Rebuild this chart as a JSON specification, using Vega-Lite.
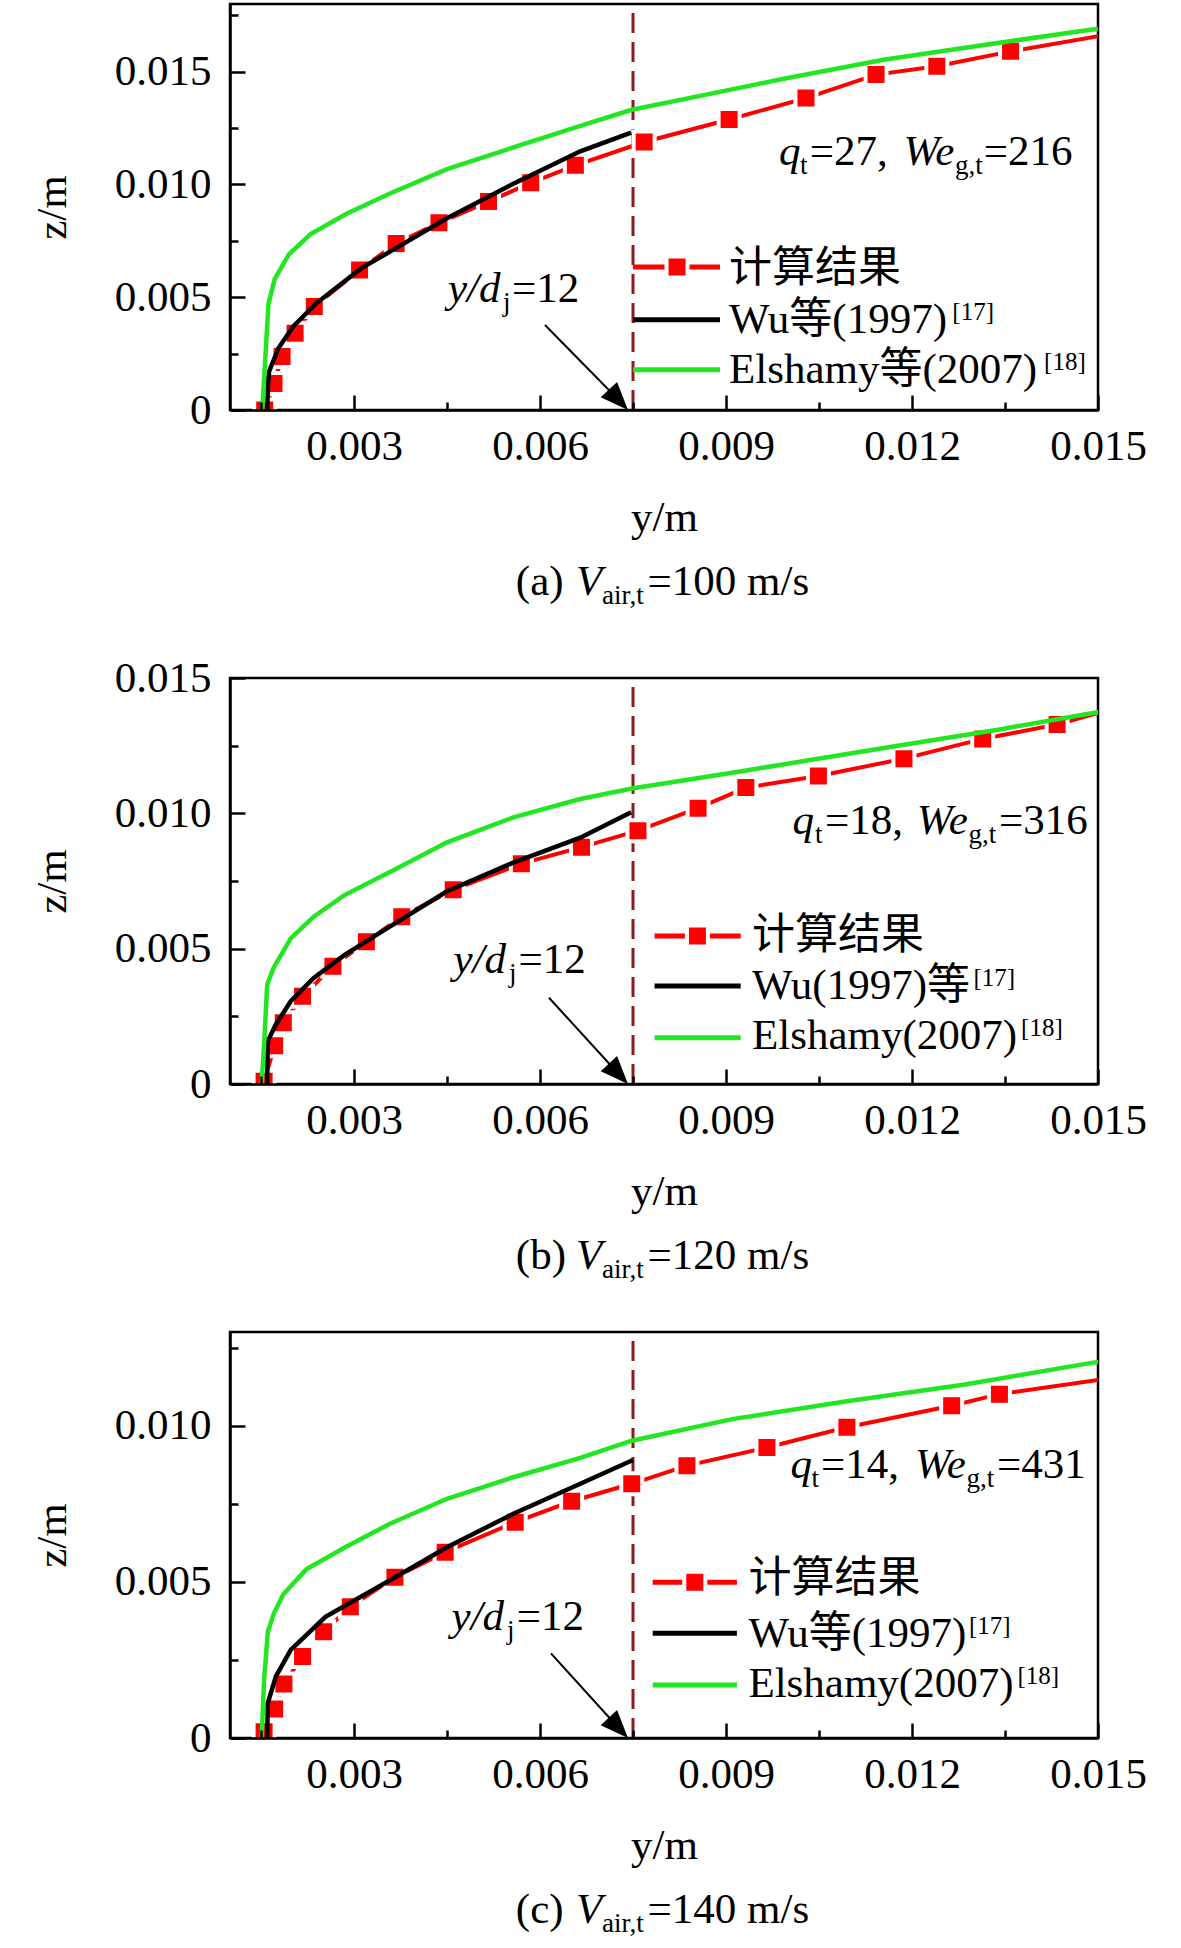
{
  "$schema": "https://vega.github.io/schema/vega-lite/v6.json",
  "padding": {"left": 30, "right": 10, "top": 1, "bottom": 5},
  "background": "white",
  "datasets": {
    "curves": [
      {"panel": "a", "series": "计算结果", "y": 0.00156, "z": 0.0},
      {"panel": "a", "series": "计算结果", "y": 0.00171, "z": 0.00118},
      {"panel": "a", "series": "计算结果", "y": 0.00184, "z": 0.00237},
      {"panel": "a", "series": "计算结果", "y": 0.00205, "z": 0.0034},
      {"panel": "a", "series": "计算结果", "y": 0.00236, "z": 0.00459},
      {"panel": "a", "series": "计算结果", "y": 0.00309, "z": 0.00621},
      {"panel": "a", "series": "计算结果", "y": 0.00368, "z": 0.00738},
      {"panel": "a", "series": "计算结果", "y": 0.00437, "z": 0.0083},
      {"panel": "a", "series": "计算结果", "y": 0.00517, "z": 0.00924},
      {"panel": "a", "series": "计算结果", "y": 0.00585, "z": 0.01007},
      {"panel": "a", "series": "计算结果", "y": 0.00657, "z": 0.01085},
      {"panel": "a", "series": "计算结果", "y": 0.00768, "z": 0.01188},
      {"panel": "a", "series": "计算结果", "y": 0.00905, "z": 0.01288},
      {"panel": "a", "series": "计算结果", "y": 0.01029, "z": 0.01383},
      {"panel": "a", "series": "计算结果", "y": 0.01142, "z": 0.01487},
      {"panel": "a", "series": "计算结果", "y": 0.0124, "z": 0.01524},
      {"panel": "a", "series": "计算结果", "y": 0.01359, "z": 0.0159},
      {"panel": "a", "series": "计算结果", "y": 0.0153, "z": 0.01671},
      {"panel": "a", "series": "Wu", "y": 0.0016, "z": 0.0},
      {"panel": "a", "series": "Wu", "y": 0.00161, "z": 0.0009},
      {"panel": "a", "series": "Wu", "y": 0.00163, "z": 0.0017},
      {"panel": "a", "series": "Wu", "y": 0.00178, "z": 0.00274},
      {"panel": "a", "series": "Wu", "y": 0.00202, "z": 0.0037},
      {"panel": "a", "series": "Wu", "y": 0.00239, "z": 0.00473},
      {"panel": "a", "series": "Wu", "y": 0.00312, "z": 0.00629},
      {"panel": "a", "series": "Wu", "y": 0.00358, "z": 0.00702},
      {"panel": "a", "series": "Wu", "y": 0.0045, "z": 0.0085},
      {"panel": "a", "series": "Wu", "y": 0.00557, "z": 0.01003},
      {"panel": "a", "series": "Wu", "y": 0.00665, "z": 0.01147},
      {"panel": "a", "series": "Wu", "y": 0.00747, "z": 0.0123},
      {"panel": "a", "series": "Elshamy", "y": 0.00152, "z": 0.0},
      {"panel": "a", "series": "Elshamy", "y": 0.00156, "z": 0.00185},
      {"panel": "a", "series": "Elshamy", "y": 0.00162, "z": 0.0047},
      {"panel": "a", "series": "Elshamy", "y": 0.00172, "z": 0.0058},
      {"panel": "a", "series": "Elshamy", "y": 0.00195, "z": 0.0069},
      {"panel": "a", "series": "Elshamy", "y": 0.0023, "z": 0.0078},
      {"panel": "a", "series": "Elshamy", "y": 0.00288, "z": 0.0087},
      {"panel": "a", "series": "Elshamy", "y": 0.00358, "z": 0.0096},
      {"panel": "a", "series": "Elshamy", "y": 0.0045, "z": 0.01068},
      {"panel": "a", "series": "Elshamy", "y": 0.00557, "z": 0.01164},
      {"panel": "a", "series": "Elshamy", "y": 0.00665, "z": 0.0126},
      {"panel": "a", "series": "Elshamy", "y": 0.00748, "z": 0.01331},
      {"panel": "a", "series": "Elshamy", "y": 0.0088, "z": 0.01405},
      {"panel": "a", "series": "Elshamy", "y": 0.00987, "z": 0.01465},
      {"panel": "a", "series": "Elshamy", "y": 0.01154, "z": 0.01553},
      {"panel": "a", "series": "Elshamy", "y": 0.01338, "z": 0.01627},
      {"panel": "a", "series": "Elshamy", "y": 0.01488, "z": 0.01686},
      {"panel": "a", "series": "Elshamy", "y": 0.0151, "z": 0.01692},
      {"panel": "b", "series": "计算结果", "y": 0.00155, "z": 0.0001},
      {"panel": "b", "series": "计算结果", "y": 0.00172, "z": 0.00141},
      {"panel": "b", "series": "计算结果", "y": 0.00186, "z": 0.00226},
      {"panel": "b", "series": "计算结果", "y": 0.00217, "z": 0.00324},
      {"panel": "b", "series": "计算结果", "y": 0.00266, "z": 0.00435},
      {"panel": "b", "series": "计算结果", "y": 0.0032, "z": 0.00526},
      {"panel": "b", "series": "计算结果", "y": 0.00377, "z": 0.00618},
      {"panel": "b", "series": "计算结果", "y": 0.0046, "z": 0.00718},
      {"panel": "b", "series": "计算结果", "y": 0.0057, "z": 0.00814},
      {"panel": "b", "series": "计算结果", "y": 0.00667, "z": 0.00875},
      {"panel": "b", "series": "计算结果", "y": 0.00758, "z": 0.00936},
      {"panel": "b", "series": "计算结果", "y": 0.00855, "z": 0.01019},
      {"panel": "b", "series": "计算结果", "y": 0.00932, "z": 0.01095},
      {"panel": "b", "series": "计算结果", "y": 0.01049, "z": 0.01138},
      {"panel": "b", "series": "计算结果", "y": 0.01187, "z": 0.01202},
      {"panel": "b", "series": "计算结果", "y": 0.01314, "z": 0.01275},
      {"panel": "b", "series": "计算结果", "y": 0.01434, "z": 0.01328},
      {"panel": "b", "series": "计算结果", "y": 0.0153, "z": 0.0139},
      {"panel": "b", "series": "Wu", "y": 0.0016, "z": 0.0},
      {"panel": "b", "series": "Wu", "y": 0.00161, "z": 0.00159},
      {"panel": "b", "series": "Wu", "y": 0.00174, "z": 0.0022},
      {"panel": "b", "series": "Wu", "y": 0.00198, "z": 0.00306},
      {"panel": "b", "series": "Wu", "y": 0.00235, "z": 0.00392},
      {"panel": "b", "series": "Wu", "y": 0.00285, "z": 0.00477},
      {"panel": "b", "series": "Wu", "y": 0.00346, "z": 0.00565},
      {"panel": "b", "series": "Wu", "y": 0.0045, "z": 0.00712},
      {"panel": "b", "series": "Wu", "y": 0.00557, "z": 0.00818},
      {"panel": "b", "series": "Wu", "y": 0.00665, "z": 0.0091},
      {"panel": "b", "series": "Wu", "y": 0.00747, "z": 0.01004},
      {"panel": "b", "series": "Elshamy", "y": 0.00151, "z": 0.0},
      {"panel": "b", "series": "Elshamy", "y": 0.00155, "z": 0.00147},
      {"panel": "b", "series": "Elshamy", "y": 0.0016, "z": 0.00367},
      {"panel": "b", "series": "Elshamy", "y": 0.0017, "z": 0.00428},
      {"panel": "b", "series": "Elshamy", "y": 0.00198, "z": 0.00538},
      {"panel": "b", "series": "Elshamy", "y": 0.00235, "z": 0.00618},
      {"panel": "b", "series": "Elshamy", "y": 0.00284, "z": 0.00697},
      {"panel": "b", "series": "Elshamy", "y": 0.00358, "z": 0.00783},
      {"panel": "b", "series": "Elshamy", "y": 0.0045, "z": 0.00893},
      {"panel": "b", "series": "Elshamy", "y": 0.00557, "z": 0.00985},
      {"panel": "b", "series": "Elshamy", "y": 0.00665, "z": 0.01053},
      {"panel": "b", "series": "Elshamy", "y": 0.00748, "z": 0.01092},
      {"panel": "b", "series": "Elshamy", "y": 0.0091, "z": 0.0115},
      {"panel": "b", "series": "Elshamy", "y": 0.01157, "z": 0.01242},
      {"panel": "b", "series": "Elshamy", "y": 0.01341, "z": 0.0131},
      {"panel": "b", "series": "Elshamy", "y": 0.01492, "z": 0.01371},
      {"panel": "b", "series": "Elshamy", "y": 0.0151, "z": 0.01377},
      {"panel": "c", "series": "计算结果", "y": 0.00155, "z": 0.0002},
      {"panel": "c", "series": "计算结果", "y": 0.00172, "z": 0.00093},
      {"panel": "c", "series": "计算结果", "y": 0.00187, "z": 0.00173},
      {"panel": "c", "series": "计算结果", "y": 0.00217, "z": 0.00261},
      {"panel": "c", "series": "计算结果", "y": 0.00251, "z": 0.0034},
      {"panel": "c", "series": "计算结果", "y": 0.00294, "z": 0.0042},
      {"panel": "c", "series": "计算结果", "y": 0.00366, "z": 0.00515},
      {"panel": "c", "series": "计算结果", "y": 0.00447, "z": 0.00595},
      {"panel": "c", "series": "计算结果", "y": 0.0056, "z": 0.00691},
      {"panel": "c", "series": "计算结果", "y": 0.00651, "z": 0.00758},
      {"panel": "c", "series": "计算结果", "y": 0.00748, "z": 0.00814},
      {"panel": "c", "series": "计算结果", "y": 0.00837, "z": 0.00872},
      {"panel": "c", "series": "计算结果", "y": 0.00966, "z": 0.0093},
      {"panel": "c", "series": "计算结果", "y": 0.01095, "z": 0.00995},
      {"panel": "c", "series": "计算结果", "y": 0.01264, "z": 0.01064},
      {"panel": "c", "series": "计算结果", "y": 0.01341, "z": 0.01101},
      {"panel": "c", "series": "计算结果", "y": 0.0153, "z": 0.01155},
      {"panel": "c", "series": "Wu", "y": 0.0016, "z": 0.0},
      {"panel": "c", "series": "Wu", "y": 0.00161, "z": 0.00112},
      {"panel": "c", "series": "Wu", "y": 0.00174, "z": 0.00197},
      {"panel": "c", "series": "Wu", "y": 0.00198, "z": 0.00282},
      {"panel": "c", "series": "Wu", "y": 0.00254, "z": 0.00388},
      {"panel": "c", "series": "Wu", "y": 0.00358, "z": 0.00505},
      {"panel": "c", "series": "Wu", "y": 0.0045, "z": 0.00611},
      {"panel": "c", "series": "Wu", "y": 0.00557, "z": 0.00718},
      {"panel": "c", "series": "Wu", "y": 0.00665, "z": 0.00814},
      {"panel": "c", "series": "Wu", "y": 0.0075, "z": 0.0089},
      {"panel": "c", "series": "Elshamy", "y": 0.00151, "z": 0.0},
      {"panel": "c", "series": "Elshamy", "y": 0.00155, "z": 0.00186},
      {"panel": "c", "series": "Elshamy", "y": 0.00161, "z": 0.0034},
      {"panel": "c", "series": "Elshamy", "y": 0.00171, "z": 0.004},
      {"panel": "c", "series": "Elshamy", "y": 0.00186, "z": 0.0046},
      {"panel": "c", "series": "Elshamy", "y": 0.00223, "z": 0.0054},
      {"panel": "c", "series": "Elshamy", "y": 0.00285, "z": 0.0061},
      {"panel": "c", "series": "Elshamy", "y": 0.00358, "z": 0.00686},
      {"panel": "c", "series": "Elshamy", "y": 0.0045, "z": 0.00766},
      {"panel": "c", "series": "Elshamy", "y": 0.00557, "z": 0.00835},
      {"panel": "c", "series": "Elshamy", "y": 0.00665, "z": 0.00897},
      {"panel": "c", "series": "Elshamy", "y": 0.00748, "z": 0.00952},
      {"panel": "c", "series": "Elshamy", "y": 0.0091, "z": 0.01021},
      {"panel": "c", "series": "Elshamy", "y": 0.01095, "z": 0.01078},
      {"panel": "c", "series": "Elshamy", "y": 0.0128, "z": 0.0113},
      {"panel": "c", "series": "Elshamy", "y": 0.01492, "z": 0.01202},
      {"panel": "c", "series": "Elshamy", "y": 0.0151, "z": 0.01207}
    ],
    "refline": [
      {"panel": "a", "y": 0.0075, "z": 0, "z2": 0.018},
      {"panel": "b", "y": 0.0075, "z": 0, "z2": 0.015},
      {"panel": "c", "y": 0.0075, "z": 0, "z2": 0.013}
    ],
    "arrows": [
      {"panel": "a", "y": 0.00608, "z": 0.003768, "y2": 0.007265, "z2": 0.000452},
      {"panel": "b", "y": 0.006145, "z": 0.003188, "y2": 0.007265, "z2": 0.000377},
      {"panel": "c", "y": 0.006177, "z": 0.002712, "y2": 0.007265, "z2": 0.000327}
    ],
    "heads": [
      {"panel": "a", "y": 0.007265, "z": 0.000452},
      {"panel": "b", "y": 0.007265, "z": 0.000377},
      {"panel": "c", "y": 0.007265, "z": 0.000327}
    ],
    "keys": [
      {"panel": "a", "series": "计算结果", "y": 0.0075, "y2": 0.008903, "z": 0.00634},
      {"panel": "a", "series": "Wu", "y": 0.0075, "y2": 0.008903, "z": 0.004003},
      {"panel": "a", "series": "Elshamy", "y": 0.0075, "y2": 0.008903, "z": 0.001787},
      {"panel": "b", "series": "计算结果", "y": 0.007848, "y2": 0.009237, "z": 0.005468},
      {"panel": "b", "series": "Wu", "y": 0.007848, "y2": 0.009237, "z": 0.003621},
      {"panel": "b", "series": "Elshamy", "y": 0.007848, "y2": 0.009237, "z": 0.001711},
      {"panel": "c", "series": "计算结果", "y": 0.007818, "y2": 0.009176, "z": 0.004985},
      {"panel": "c", "series": "Wu", "y": 0.007818, "y2": 0.009176, "z": 0.003353},
      {"panel": "c", "series": "Elshamy", "y": 0.007818, "y2": 0.009176, "z": 0.001697}
    ],
    "keymarks": [
      {"panel": "a", "y": 0.00821, "z": 0.00634},
      {"panel": "b", "y": 0.008539, "z": 0.005468},
      {"panel": "c", "y": 0.008497, "z": 0.004985}
    ],
    "roman": [
      {"panel": "a", "y": 0.005548, "z": 0.004788, "text": "=12"},
      {"panel": "a", "y": 0.010349, "z": 0.010849, "text": "=27,"},
      {"panel": "a", "y": 0.013157, "z": 0.010849, "text": "=216"},
      {"panel": "a", "y": 0.009048, "z": 0.005675, "text": "计算结果"},
      {"panel": "a", "y": 0.009048, "z": 0.003414, "text": "Wu等(1997)"},
      {"panel": "a", "y": 0.009048, "z": 0.001219, "text": "Elshamy等(2007)"},
      {"panel": "a", "y": 0.00561, "z": -0.0082, "text": "(a)"},
      {"panel": "a", "y": 0.007735, "z": -0.0082, "text": "=100 m/s"},
      {"panel": "b", "y": 0.005655, "z": 0.004112, "text": "=12"},
      {"panel": "b", "y": 0.010597, "z": 0.009225, "text": "=18,"},
      {"panel": "b", "y": 0.013403, "z": 0.009225, "text": "=316"},
      {"panel": "b", "y": 0.009419, "z": 0.004988, "text": "计算结果"},
      {"panel": "b", "y": 0.009419, "z": 0.00314, "text": "Wu(1997)等"},
      {"panel": "b", "y": 0.009419, "z": 0.001293, "text": "Elshamy(2007)"},
      {"panel": "b", "y": 0.00561, "z": -0.006835, "text": "(b)"},
      {"panel": "b", "y": 0.007735, "z": -0.006835, "text": "=120 m/s"},
      {"panel": "c", "y": 0.005623, "z": 0.003458, "text": "=12"},
      {"panel": "c", "y": 0.010532, "z": 0.008316, "text": "=14,"},
      {"panel": "c", "y": 0.013371, "z": 0.008316, "text": "=431"},
      {"panel": "c", "y": 0.009361, "z": 0.004675, "text": "计算结果"},
      {"panel": "c", "y": 0.009361, "z": 0.002923, "text": "Wu等(1997)"},
      {"panel": "c", "y": 0.009361, "z": 0.001322, "text": "Elshamy(2007)"},
      {"panel": "c", "y": 0.00561, "z": -0.005924, "text": "(c)"},
      {"panel": "c", "y": 0.007735, "z": -0.005924, "text": "=140 m/s"}
    ],
    "italic": [
      {"panel": "a", "y": 0.004516, "z": 0.004788, "text": "y/d"},
      {"panel": "a", "y": 0.009855, "z": 0.010849, "text": "q"},
      {"panel": "a", "y": 0.011861, "z": 0.010849, "text": "We"},
      {"panel": "a", "y": 0.006581, "z": -0.0082, "text": "V"},
      {"panel": "b", "y": 0.004605, "z": 0.004112, "text": "y/d"},
      {"panel": "b", "y": 0.010071, "z": 0.009225, "text": "q"},
      {"panel": "b", "y": 0.012077, "z": 0.009225, "text": "We"},
      {"panel": "b", "y": 0.006581, "z": -0.006835, "text": "V"},
      {"panel": "c", "y": 0.004574, "z": 0.003458, "text": "y/d"},
      {"panel": "c", "y": 0.01004, "z": 0.008316, "text": "q"},
      {"panel": "c", "y": 0.012047, "z": 0.008316, "text": "We"},
      {"panel": "c", "y": 0.006581, "z": -0.005924, "text": "V"}
    ],
    "sub": [
      {"panel": "a", "y": 0.005403, "z": 0.004788, "text": "j"},
      {"panel": "a", "y": 0.010194, "z": 0.010849, "text": "t"},
      {"panel": "a", "y": 0.012694, "z": 0.010849, "text": "g,t"},
      {"panel": "a", "y": 0.007, "z": -0.0082, "text": "air,t"},
      {"panel": "b", "y": 0.0055, "z": 0.004112, "text": "j"},
      {"panel": "b", "y": 0.010435, "z": 0.009225, "text": "t"},
      {"panel": "b", "y": 0.01291, "z": 0.009225, "text": "g,t"},
      {"panel": "b", "y": 0.007, "z": -0.006835, "text": "air,t"},
      {"panel": "c", "y": 0.005468, "z": 0.003458, "text": "j"},
      {"panel": "c", "y": 0.010379, "z": 0.008316, "text": "t"},
      {"panel": "c", "y": 0.012879, "z": 0.008316, "text": "g,t"},
      {"panel": "c", "y": 0.007, "z": -0.005924, "text": "air,t"}
    ],
    "sup": [
      {"panel": "a", "y": 0.01265, "z": 0.003414, "text": "[17]"},
      {"panel": "a", "y": 0.01413, "z": 0.001219, "text": "[18]"},
      {"panel": "b", "y": 0.01299, "z": 0.00314, "text": "[17]"},
      {"panel": "b", "y": 0.01376, "z": 0.001293, "text": "[18]"},
      {"panel": "c", "y": 0.01292, "z": 0.002923, "text": "[17]"},
      {"panel": "c", "y": 0.0137, "z": 0.001322, "text": "[18]"}
    ]
  },
  "vconcat": [
    {
      "width": 868,
      "height": 406,
      "resolve": {"axis": {"x": "independent", "y": "independent"}},
      "encoding": {
        "x": {"field": "y", "type": "quantitative", "scale": {"domain": [0.001, 0.015], "nice": false, "zero": false}, "axis": null},
        "y": {"field": "z", "type": "quantitative", "scale": {"domain": [0, 0.018], "nice": false, "zero": false}, "axis": null}
      },
      "layer": [
        {"data": {"name": "refline"}, "transform": [{"filter": "datum.panel === 'a'"}],
         "mark": {"type": "rule", "color": "#8B1C1C", "strokeWidth": 3, "strokeDash": [20, 9]},
         "encoding": {
           "x": {"field": "y", "type": "quantitative", "scale": {"domain": [0.001, 0.015], "nice": false, "zero": false},
                 "axis": {"orient": "bottom", "title": "y/m", "values": [0.003, 0.006, 0.009, 0.012, 0.015], "format": ".3f",
                          "ticks": true, "tickSize": -15, "labelPadding": 30, "titlePadding": 28, "zindex": 1}},
           "y": {"field": "z", "type": "quantitative", "scale": {"domain": [0, 0.018], "nice": false, "zero": false},
                 "axis": {"orient": "left", "title": "z/m", "values": [0, 0.005, 0.01, 0.015],
                          "labelExpr": "datum.value === 0 ? '0' : format(datum.value, '.3f')",
                          "ticks": true, "tickSize": -15, "labelPadding": 34, "titlePadding": 40, "zindex": 1}},
           "y2": {"field": "z2"}}},
        {"data": {"name": "curves"}, "transform": [{"filter": "datum.panel === 'a' && datum.series === '计算结果'"}],
         "mark": {"type": "line", "color": "#FF0000", "strokeWidth": 4, "clip": true},
         "encoding": {
           "x": {"field": "y", "type": "quantitative", "scale": {"domain": [0.001, 0.015], "nice": false, "zero": false},
                 "axis": {"orient": "bottom", "title": null, "values": [0.0015, 0.0045, 0.0075, 0.0105, 0.0135],
                          "labels": false, "domain": false, "ticks": true, "tickSize": -8, "zindex": 1}},
           "y": {"field": "z", "type": "quantitative", "scale": {"domain": [0, 0.018], "nice": false, "zero": false},
                 "axis": {"orient": "left", "title": null, "values": [0.0025, 0.0075, 0.0125, 0.0175],
                          "labels": false, "domain": false, "ticks": true, "tickSize": -8, "zindex": 1}}}},
        {"data": {"name": "curves"}, "transform": [{"filter": "datum.panel === 'a' && datum.series === '计算结果'"}],
         "mark": {"type": "point", "shape": "square", "filled": true, "color": "#FF0000", "stroke": "white", "strokeWidth": 4, "size": 441, "opacity": 1, "clip": true}},
        {"data": {"name": "curves"}, "transform": [{"filter": "datum.panel === 'a' && datum.series === 'Wu'"}],
         "mark": {"type": "line", "color": "#000000", "strokeWidth": 4.5, "clip": true}},
        {"data": {"name": "curves"}, "transform": [{"filter": "datum.panel === 'a' && datum.series === 'Elshamy'"}],
         "mark": {"type": "line", "color": "#22E622", "strokeWidth": 4.5, "clip": true}},
        {"data": {"name": "arrows"}, "transform": [{"filter": "datum.panel === 'a'"}],
         "mark": {"type": "rule", "color": "black", "strokeWidth": 2},
         "encoding": {"x2": {"field": "y2"}, "y2": {"field": "z2"}}},
        {"data": {"name": "heads"}, "transform": [{"filter": "datum.panel === 'a'"}],
         "mark": {"type": "point", "shape": "M0,-1L0.8,1L-0.8,1Z", "filled": true, "color": "black", "size": 784, "angle": 137, "opacity": 1}},
        {"data": {"name": "keys"}, "transform": [{"filter": "datum.panel === 'a'"}],
         "mark": {"type": "rule", "strokeWidth": 5},
         "encoding": {"x2": {"field": "y2"},
                      "color": {"field": "series", "type": "nominal", "scale": {"domain": ["计算结果", "Wu", "Elshamy"], "range": ["#FF0000", "#000000", "#22E622"]}, "legend": null}}},
        {"data": {"name": "keymarks"}, "transform": [{"filter": "datum.panel === 'a'"}],
         "mark": {"type": "point", "shape": "square", "filled": true, "color": "#FF0000", "stroke": "white", "strokeWidth": 4, "size": 441, "opacity": 1}},
        {"data": {"name": "roman"}, "transform": [{"filter": "datum.panel === 'a'"}],
         "mark": {"type": "text", "fontSize": 43},
         "encoding": {"text": {"field": "text", "type": "nominal"}}},
        {"data": {"name": "italic"}, "transform": [{"filter": "datum.panel === 'a'"}],
         "mark": {"type": "text", "fontSize": 43, "fontStyle": "italic"},
         "encoding": {"text": {"field": "text", "type": "nominal"}}},
        {"data": {"name": "sub"}, "transform": [{"filter": "datum.panel === 'a'"}],
         "mark": {"type": "text", "fontSize": 27, "dy": 9},
         "encoding": {"text": {"field": "text", "type": "nominal"}}},
        {"data": {"name": "sup"}, "transform": [{"filter": "datum.panel === 'a'"}],
         "mark": {"type": "text", "fontSize": 25, "dy": -13},
         "encoding": {"text": {"field": "text", "type": "nominal"}}}
      ]
    },
    {
      "width": 868,
      "height": 406,
      "resolve": {"axis": {"x": "independent", "y": "independent"}},
      "encoding": {
        "x": {"field": "y", "type": "quantitative", "scale": {"domain": [0.001, 0.015], "nice": false, "zero": false}, "axis": null},
        "y": {"field": "z", "type": "quantitative", "scale": {"domain": [0, 0.015], "nice": false, "zero": false}, "axis": null}
      },
      "layer": [
        {"data": {"name": "refline"}, "transform": [{"filter": "datum.panel === 'b'"}],
         "mark": {"type": "rule", "color": "#8B1C1C", "strokeWidth": 3, "strokeDash": [20, 9]},
         "encoding": {
           "x": {"field": "y", "type": "quantitative", "scale": {"domain": [0.001, 0.015], "nice": false, "zero": false},
                 "axis": {"orient": "bottom", "title": "y/m", "values": [0.003, 0.006, 0.009, 0.012, 0.015], "format": ".3f",
                          "ticks": true, "tickSize": -15, "labelPadding": 30, "titlePadding": 28, "zindex": 1}},
           "y": {"field": "z", "type": "quantitative", "scale": {"domain": [0, 0.015], "nice": false, "zero": false},
                 "axis": {"orient": "left", "title": "z/m", "values": [0, 0.005, 0.01, 0.015],
                          "labelExpr": "datum.value === 0 ? '0' : format(datum.value, '.3f')",
                          "ticks": true, "tickSize": -15, "labelPadding": 34, "titlePadding": 40, "zindex": 1}},
           "y2": {"field": "z2"}}},
        {"data": {"name": "curves"}, "transform": [{"filter": "datum.panel === 'b' && datum.series === '计算结果'"}],
         "mark": {"type": "line", "color": "#FF0000", "strokeWidth": 4, "clip": true},
         "encoding": {
           "x": {"field": "y", "type": "quantitative", "scale": {"domain": [0.001, 0.015], "nice": false, "zero": false},
                 "axis": {"orient": "bottom", "title": null, "values": [0.0015, 0.0045, 0.0075, 0.0105, 0.0135],
                          "labels": false, "domain": false, "ticks": true, "tickSize": -8, "zindex": 1}},
           "y": {"field": "z", "type": "quantitative", "scale": {"domain": [0, 0.015], "nice": false, "zero": false},
                 "axis": {"orient": "left", "title": null, "values": [0.0025, 0.0075, 0.0125],
                          "labels": false, "domain": false, "ticks": true, "tickSize": -8, "zindex": 1}}}},
        {"data": {"name": "curves"}, "transform": [{"filter": "datum.panel === 'b' && datum.series === '计算结果'"}],
         "mark": {"type": "point", "shape": "square", "filled": true, "color": "#FF0000", "stroke": "white", "strokeWidth": 4, "size": 441, "opacity": 1, "clip": true}},
        {"data": {"name": "curves"}, "transform": [{"filter": "datum.panel === 'b' && datum.series === 'Wu'"}],
         "mark": {"type": "line", "color": "#000000", "strokeWidth": 4.5, "clip": true}},
        {"data": {"name": "curves"}, "transform": [{"filter": "datum.panel === 'b' && datum.series === 'Elshamy'"}],
         "mark": {"type": "line", "color": "#22E622", "strokeWidth": 4.5, "clip": true}},
        {"data": {"name": "arrows"}, "transform": [{"filter": "datum.panel === 'b'"}],
         "mark": {"type": "rule", "color": "black", "strokeWidth": 2},
         "encoding": {"x2": {"field": "y2"}, "y2": {"field": "z2"}}},
        {"data": {"name": "heads"}, "transform": [{"filter": "datum.panel === 'b'"}],
         "mark": {"type": "point", "shape": "M0,-1L0.8,1L-0.8,1Z", "filled": true, "color": "black", "size": 784, "angle": 137, "opacity": 1}},
        {"data": {"name": "keys"}, "transform": [{"filter": "datum.panel === 'b'"}],
         "mark": {"type": "rule", "strokeWidth": 5},
         "encoding": {"x2": {"field": "y2"},
                      "color": {"field": "series", "type": "nominal", "scale": {"domain": ["计算结果", "Wu", "Elshamy"], "range": ["#FF0000", "#000000", "#22E622"]}, "legend": null}}},
        {"data": {"name": "keymarks"}, "transform": [{"filter": "datum.panel === 'b'"}],
         "mark": {"type": "point", "shape": "square", "filled": true, "color": "#FF0000", "stroke": "white", "strokeWidth": 4, "size": 441, "opacity": 1}},
        {"data": {"name": "roman"}, "transform": [{"filter": "datum.panel === 'b'"}],
         "mark": {"type": "text", "fontSize": 43},
         "encoding": {"text": {"field": "text", "type": "nominal"}}},
        {"data": {"name": "italic"}, "transform": [{"filter": "datum.panel === 'b'"}],
         "mark": {"type": "text", "fontSize": 43, "fontStyle": "italic"},
         "encoding": {"text": {"field": "text", "type": "nominal"}}},
        {"data": {"name": "sub"}, "transform": [{"filter": "datum.panel === 'b'"}],
         "mark": {"type": "text", "fontSize": 27, "dy": 9},
         "encoding": {"text": {"field": "text", "type": "nominal"}}},
        {"data": {"name": "sup"}, "transform": [{"filter": "datum.panel === 'b'"}],
         "mark": {"type": "text", "fontSize": 25, "dy": -13},
         "encoding": {"text": {"field": "text", "type": "nominal"}}}
      ]
    },
    {
      "width": 868,
      "height": 406,
      "resolve": {"axis": {"x": "independent", "y": "independent"}},
      "encoding": {
        "x": {"field": "y", "type": "quantitative", "scale": {"domain": [0.001, 0.015], "nice": false, "zero": false}, "axis": null},
        "y": {"field": "z", "type": "quantitative", "scale": {"domain": [0, 0.013], "nice": false, "zero": false}, "axis": null}
      },
      "layer": [
        {"data": {"name": "refline"}, "transform": [{"filter": "datum.panel === 'c'"}],
         "mark": {"type": "rule", "color": "#8B1C1C", "strokeWidth": 3, "strokeDash": [20, 9]},
         "encoding": {
           "x": {"field": "y", "type": "quantitative", "scale": {"domain": [0.001, 0.015], "nice": false, "zero": false},
                 "axis": {"orient": "bottom", "title": "y/m", "values": [0.003, 0.006, 0.009, 0.012, 0.015], "format": ".3f",
                          "ticks": true, "tickSize": -15, "labelPadding": 30, "titlePadding": 28, "zindex": 1}},
           "y": {"field": "z", "type": "quantitative", "scale": {"domain": [0, 0.013], "nice": false, "zero": false},
                 "axis": {"orient": "left", "title": "z/m", "values": [0, 0.005, 0.01],
                          "labelExpr": "datum.value === 0 ? '0' : format(datum.value, '.3f')",
                          "ticks": true, "tickSize": -15, "labelPadding": 34, "titlePadding": 40, "zindex": 1}},
           "y2": {"field": "z2"}}},
        {"data": {"name": "curves"}, "transform": [{"filter": "datum.panel === 'c' && datum.series === '计算结果'"}],
         "mark": {"type": "line", "color": "#FF0000", "strokeWidth": 4, "clip": true},
         "encoding": {
           "x": {"field": "y", "type": "quantitative", "scale": {"domain": [0.001, 0.015], "nice": false, "zero": false},
                 "axis": {"orient": "bottom", "title": null, "values": [0.0015, 0.0045, 0.0075, 0.0105, 0.0135],
                          "labels": false, "domain": false, "ticks": true, "tickSize": -8, "zindex": 1}},
           "y": {"field": "z", "type": "quantitative", "scale": {"domain": [0, 0.013], "nice": false, "zero": false},
                 "axis": {"orient": "left", "title": null, "values": [0.0025, 0.0075, 0.0125],
                          "labels": false, "domain": false, "ticks": true, "tickSize": -8, "zindex": 1}}}},
        {"data": {"name": "curves"}, "transform": [{"filter": "datum.panel === 'c' && datum.series === '计算结果'"}],
         "mark": {"type": "point", "shape": "square", "filled": true, "color": "#FF0000", "stroke": "white", "strokeWidth": 4, "size": 441, "opacity": 1, "clip": true}},
        {"data": {"name": "curves"}, "transform": [{"filter": "datum.panel === 'c' && datum.series === 'Wu'"}],
         "mark": {"type": "line", "color": "#000000", "strokeWidth": 4.5, "clip": true}},
        {"data": {"name": "curves"}, "transform": [{"filter": "datum.panel === 'c' && datum.series === 'Elshamy'"}],
         "mark": {"type": "line", "color": "#22E622", "strokeWidth": 4.5, "clip": true}},
        {"data": {"name": "arrows"}, "transform": [{"filter": "datum.panel === 'c'"}],
         "mark": {"type": "rule", "color": "black", "strokeWidth": 2},
         "encoding": {"x2": {"field": "y2"}, "y2": {"field": "z2"}}},
        {"data": {"name": "heads"}, "transform": [{"filter": "datum.panel === 'c'"}],
         "mark": {"type": "point", "shape": "M0,-1L0.8,1L-0.8,1Z", "filled": true, "color": "black", "size": 784, "angle": 137, "opacity": 1}},
        {"data": {"name": "keys"}, "transform": [{"filter": "datum.panel === 'c'"}],
         "mark": {"type": "rule", "strokeWidth": 5},
         "encoding": {"x2": {"field": "y2"},
                      "color": {"field": "series", "type": "nominal", "scale": {"domain": ["计算结果", "Wu", "Elshamy"], "range": ["#FF0000", "#000000", "#22E622"]}, "legend": null}}},
        {"data": {"name": "keymarks"}, "transform": [{"filter": "datum.panel === 'c'"}],
         "mark": {"type": "point", "shape": "square", "filled": true, "color": "#FF0000", "stroke": "white", "strokeWidth": 4, "size": 441, "opacity": 1}},
        {"data": {"name": "roman"}, "transform": [{"filter": "datum.panel === 'c'"}],
         "mark": {"type": "text", "fontSize": 43},
         "encoding": {"text": {"field": "text", "type": "nominal"}}},
        {"data": {"name": "italic"}, "transform": [{"filter": "datum.panel === 'c'"}],
         "mark": {"type": "text", "fontSize": 43, "fontStyle": "italic"},
         "encoding": {"text": {"field": "text", "type": "nominal"}}},
        {"data": {"name": "sub"}, "transform": [{"filter": "datum.panel === 'c'"}],
         "mark": {"type": "text", "fontSize": 27, "dy": 9},
         "encoding": {"text": {"field": "text", "type": "nominal"}}},
        {"data": {"name": "sup"}, "transform": [{"filter": "datum.panel === 'c'"}],
         "mark": {"type": "text", "fontSize": 25, "dy": -13},
         "encoding": {"text": {"field": "text", "type": "nominal"}}}
      ]
    }
  ],
  "config": {
    "font": "Liberation Serif",
    "view": {"stroke": "black", "strokeWidth": 2.5},
    "concat": {"spacing": 44},
    "axis": {
      "domainColor": "black", "domainWidth": 2.5,
      "tickColor": "black", "tickWidth": 2.5,
      "labelColor": "black", "labelFont": "Liberation Serif", "labelFontSize": 43,
      "titleColor": "black", "titleFont": "Liberation Serif", "titleFontSize": 43, "titleFontWeight": "normal",
      "grid": false, "labelOverlap": false, "labelFlush": false
    },
    "text": {"font": "Liberation Serif, Noto Sans CJK SC", "color": "black", "baseline": "alphabetic", "align": "left"}
  }
}
